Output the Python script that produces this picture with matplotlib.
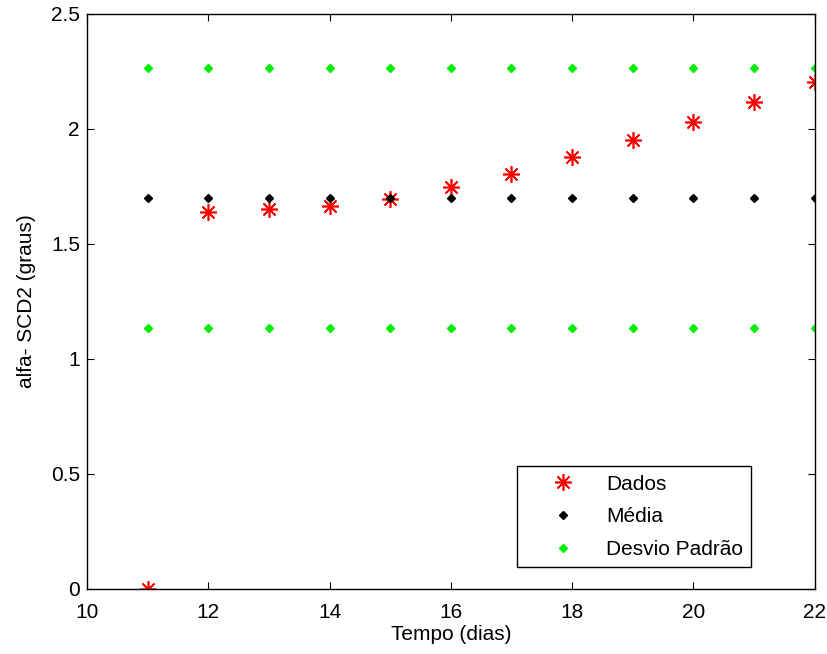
import numpy as np
import matplotlib
matplotlib.use('Agg')
from matplotlib import pyplot as plt

# dados
dias = [11, 12, 13, 14, 15, 16, 17, 18, 19, 20, 21, 22]
dados = [0.0, 1.638, 1.651, 1.667, 1.696, 1.746, 1.805, 1.877, 1.951, 2.032, 2.118, 2.206]
media = 1.699
desvio = 0.565

plt.rcParams['font.family'] = ['Liberation Sans', 'DejaVu Sans']

fig = plt.figure(figsize=(8.28, 6.54), dpi=100)
ax = fig.add_axes([0.105, 0.0994, 0.879, 0.8792])

x = np.array(dias)
ax.plot(x, dados, linestyle='none', marker=(8, 2, 0), color='red',
        markersize=12, markeredgewidth=1.2, label='Dados')
ax.plot(x, [media] * len(x), linestyle='none', marker='D', color='black',
        markersize=4.5, label='Média')
ax.plot(x, [media + desvio] * len(x), linestyle='none', marker='D', color='#00ee00',
        markersize=4.5, label='Desvio Padrão')
ax.plot(x, [media - desvio] * len(x), linestyle='none', marker='D', color='#00ee00',
        markersize=4.5)

ax.set_xlim(10, 22)
ax.set_ylim(0, 2.5)
ax.set_xticks([10, 12, 14, 16, 18, 20, 22])
ax.set_yticks([0, 0.5, 1, 1.5, 2, 2.5])
ax.set_yticklabels(['0', '0.5', '1', '1.5', '2', '2.5'])
ax.tick_params(direction='in', top=True, right=True, labelsize=15, length=5)
ax.tick_params(axis='x', pad=10)
ax.tick_params(axis='y', pad=5)
ax.set_xlabel('Tempo (dias)', fontsize=15, labelpad=2)
ax.set_ylabel('alfa- SCD2 (graus)', fontsize=15, labelpad=11)
for s in ax.spines.values():
    s.set_linewidth(1.0)

leg = ax.legend(loc='lower right', bbox_to_anchor=(0.913, 0.038), borderaxespad=0,
                fontsize=15, fancybox=False, edgecolor='black', framealpha=1,
                handletextpad=0.2, borderpad=0.4, labelspacing=0.65, handlelength=3.7)
leg.get_frame().set_linewidth(1.0)

fig.savefig('out.png', dpi=100)
